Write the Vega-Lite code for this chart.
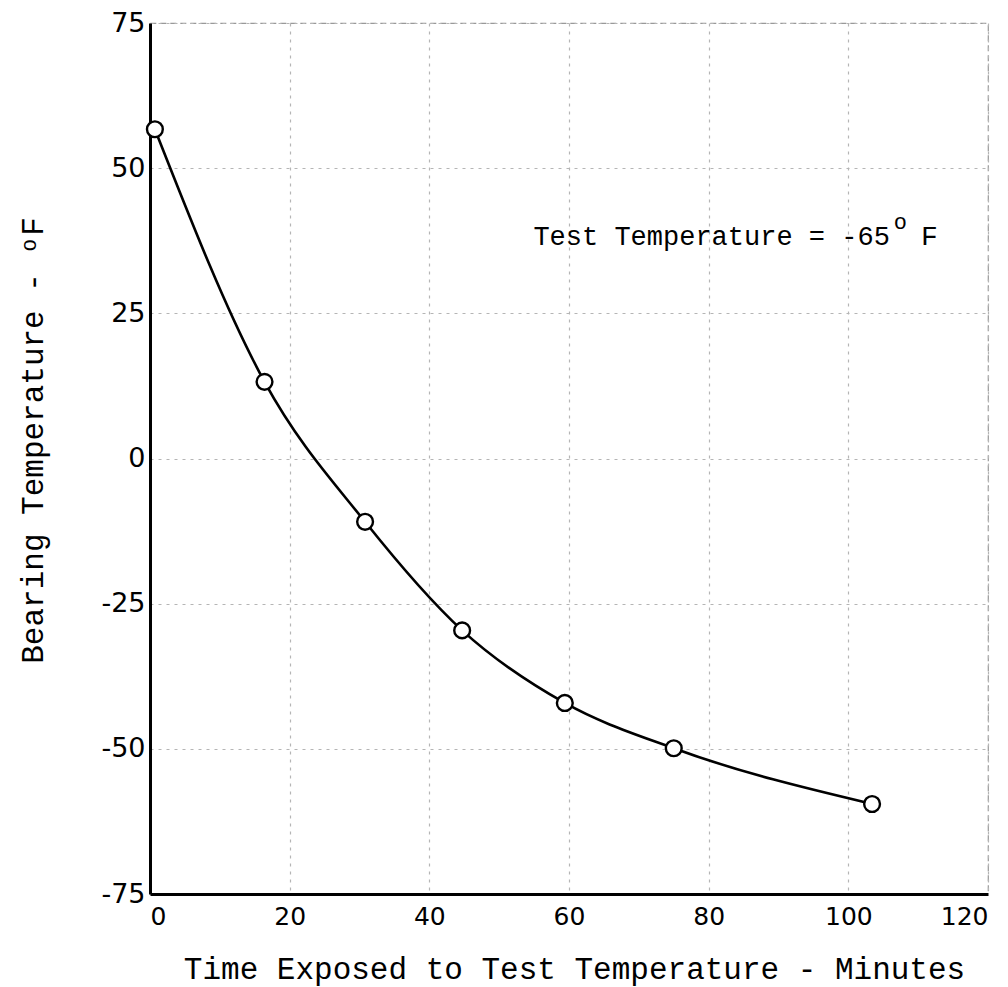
{
  "$schema": "https://vega.github.io/schema/vega-lite/v6.json",
  "autosize": "none",
  "width": 838,
  "height": 871,
  "padding": {"left": 150, "top": 23, "right": 20, "bottom": 93},
  "background": "white",
  "config": {
    "view": {"stroke": "#999999", "strokeWidth": 1.2, "strokeDash": [6, 4]},
    "axis": {
      "domainColor": "black",
      "domainWidth": 3,
      "ticks": false,
      "grid": true,
      "gridColor": "#b5b5b5",
      "gridDash": [3, 5],
      "gridWidth": 1.2,
      "labelColor": "black",
      "labelFont": "DejaVu Sans",
      "titleColor": "black",
      "titleFont": "Liberation Mono",
      "titleFontWeight": "normal"
    }
  },
  "data": {
    "values": [
      {"time": 0.7, "temp": 56.7},
      {"time": 16.4, "temp": 13.2},
      {"time": 30.8, "temp": -10.9},
      {"time": 44.7, "temp": -29.6},
      {"time": 59.4, "temp": -42.1},
      {"time": 75.0, "temp": -49.9},
      {"time": 103.4, "temp": -59.5}
    ]
  },
  "layer": [
    {
      "mark": {"type": "line", "color": "black", "strokeWidth": 2.6, "interpolate": "monotone"},
      "encoding": {
        "x": {
          "field": "time", "type": "quantitative",
          "scale": {"domain": [0, 120], "nice": false},
          "axis": {
            "values": [0, 20, 40, 60, 80, 100, 120],
            "title": "Time Exposed to Test Temperature - Minutes",
            "titleFontSize": 31,
            "titleX": 424,
            "titleY": 84,
            "titleBaseline": "alphabetic",
            "titleAlign": "center",
            "labelFontSize": 25,
            "labelPadding": 10,
            "labelFlush": true
          }
        },
        "y": {
          "field": "temp", "type": "quantitative",
          "scale": {"domain": [-75, 75], "nice": false},
          "axis": {
            "values": [-75, -50, -25, 0, 25, 50, 75],
            "labelExpr": "datum.value < 0 ? '-' + abs(datum.value) : '' + datum.value",
            "title": "Bearing Temperature - ᵒF",
            "titleFontSize": 31,
            "titleAngle": 270,
            "titleX": -108,
            "titleY": 417,
            "titleBaseline": "alphabetic",
            "titleAlign": "center",
            "labelFontSize": 27,
            "labelPadding": 5,
            "labelFlush": false
          }
        }
      }
    },
    {
      "mark": {"type": "point", "shape": "circle", "size": 250, "filled": true, "fill": "white", "stroke": "black", "strokeWidth": 2.4, "opacity": 1},
      "encoding": {
        "x": {"field": "time", "type": "quantitative"},
        "y": {"field": "temp", "type": "quantitative"}
      }
    },
    {
      "data": {"values": [
        {"x": 54.9, "y": 36.8, "label": "Test Temperature = -65", "size": 27},
        {"x": 106.5, "y": 39.6, "label": "o", "size": 22},
        {"x": 110.4, "y": 36.8, "label": "F", "size": 28}
      ]},
      "mark": {"type": "text", "font": "Liberation Mono", "align": "left", "baseline": "alphabetic", "color": "black"},
      "encoding": {
        "x": {"field": "x", "type": "quantitative"},
        "y": {"field": "y", "type": "quantitative"},
        "text": {"field": "label"},
        "size": {"field": "size", "type": "quantitative", "scale": null}
      }
    }
  ]
}
